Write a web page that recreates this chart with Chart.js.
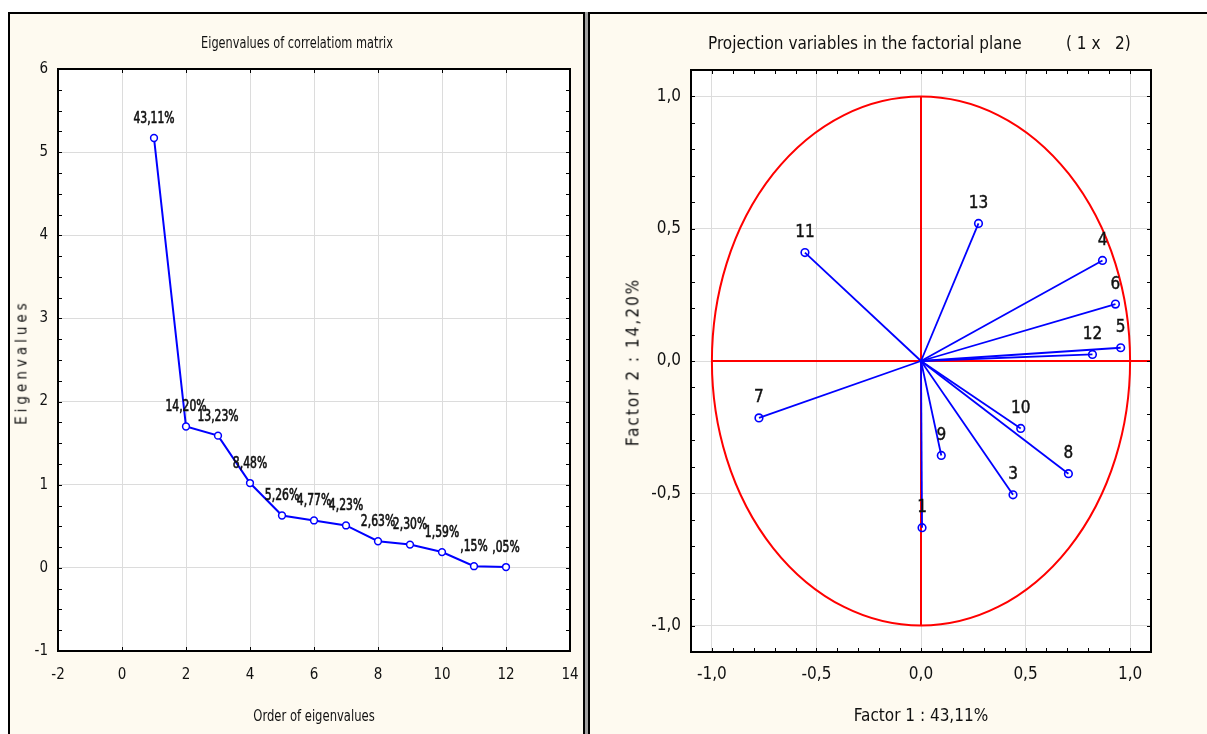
<!DOCTYPE html>
<html><head><meta charset="utf-8">
<script src="https://cdn.jsdelivr.net/npm/chart.js@4/dist/chart.umd.min.js"></script>
<style>
html,body{margin:0;padding:0;background:#fff;width:1207px;height:734px;overflow:hidden;position:relative}
.panel{position:absolute;background:#fefaf0;box-sizing:border-box;border:2px solid #000;border-bottom:none}
#pl{left:8px;top:12px;width:577px;height:730px}
#pr{left:588px;top:12px;width:640px;height:730px;border-right:none}
#gap{position:absolute;left:585px;top:12px;width:3px;height:730px;background:#a0a0a0}
canvas{position:absolute}
.ttl{position:absolute;white-space:pre;color:#111;font-family:'Liberation Sans Narrow','DejaVu Sans Condensed','Liberation Sans',Arial,sans-serif;line-height:1;transform:translateY(-50%)}
.vt{position:absolute;white-space:pre;color:#111;font-family:'Liberation Sans Narrow','DejaVu Sans Condensed','Liberation Sans',Arial,sans-serif;line-height:1;transform:translate(-50%,-50%) rotate(-90deg)}
</style>
</head><body>
<div id="gap"></div>
<div class="panel" id="pl"></div>
<div class="panel" id="pr"></div>
<canvas id="c1" width="576" height="722" style="left:8px;top:12px;width:576px;height:722px"></canvas>
<canvas id="c2" width="617" height="722" style="left:590px;top:12px;width:617px;height:722px"></canvas>
<div class="ttl" style="left:297px;top:43px;font-size:15px;transform:translate(-50%,-50%) scaleX(0.84)">Eigenvalues of correlatiom matrix</div>
<div class="ttl" style="left:314px;top:716px;font-size:15px;transform:translate(-50%,-50%) scaleX(0.86)">Order of eigenvalues</div>
<div class="ttl" style="left:708px;top:43px;font-size:17px">Projection variables in the factorial plane</div>
<div class="ttl" style="left:1066px;top:43px;font-size:17px">( 1 x   2)</div>
<div class="vt" style="left:22px;top:362px;font-size:15px;letter-spacing:4px">Eigenvalues</div>
<div class="vt" style="left:633px;top:362px;font-size:17px;letter-spacing:2px">Factor 2 : 14,20%</div>
<script>
// ---------- data: scree plot ----------
const eigOrder = [1,2,3,4,5,6,7,8,9,10,11,12];
const eigValues = [5.17,1.70,1.59,1.02,0.63,0.57,0.51,0.32,0.28,0.19,0.02,0.01];
const eigLabels = ['43,11%','14,20%','13,23%','8,48%','5,26%','4,77%','4,23%','2,63%','2,30%','1,59%',',15%',',05%'];
const eigXTicks = [-2,0,2,4,6,8,10,12,14];
const eigYTicks = [-1,0,1,2,3,4,5,6];

// ---------- data: projection of variables ----------
const varNames = ['1','3','4','5','6','7','8','9','10','11','12','13'];
const factor1 = [0.005,0.44,0.868,0.955,0.93,-0.775,0.705,0.097,0.477,-0.555,0.82,0.275];
const factor2 = [-0.63,-0.506,0.38,0.05,0.215,-0.215,-0.426,-0.357,-0.255,0.41,0.025,0.52];
const projTicks = [-1,-0.5,0,0.5,1];
const projTickLabels = ['-1,0','-0,5','0,0','0,5','1,0'];

const FONT = "'Liberation Sans Narrow','DejaVu Sans Condensed','Liberation Sans',Arial,sans-serif";
Chart.defaults.font.family = FONT;
Chart.defaults.color = '#111';

function frameAndTicks(chart, xs, ys, len) {
  const ctx = chart.ctx, a = chart.chartArea;
  const sx = chart.scales.x, sy = chart.scales.y;
  ctx.save();
  ctx.strokeStyle = '#000';
  ctx.lineWidth = 1;
  ctx.beginPath();
  xs.forEach(v => { const p = Math.round(sx.getPixelForValue(v)) + 0.5;
    ctx.moveTo(p, a.top); ctx.lineTo(p, a.top + len);
    ctx.moveTo(p, a.bottom); ctx.lineTo(p, a.bottom - len); });
  ys.forEach(v => { const p = Math.round(sy.getPixelForValue(v)) + 0.5;
    ctx.moveTo(a.left, p); ctx.lineTo(a.left + len, p);
    ctx.moveTo(a.right, p); ctx.lineTo(a.right - len, p); });
  ctx.stroke();
  ctx.lineWidth = 2;
  ctx.strokeRect(a.left, a.top, a.right - a.left, a.bottom - a.top);
  ctx.restore();
}
function whiteArea(chart) {
  const ctx = chart.ctx, a = chart.chartArea;
  ctx.save(); ctx.fillStyle = '#fff';
  ctx.fillRect(a.left, a.top, a.right - a.left, a.bottom - a.top);
  ctx.restore();
}
function range(a, b, s) { const r = []; for (let v = a; v <= b + 1e-9; v += s) r.push(Math.round(v * 1000) / 1000); return r; }
function noEdgePad(s) { s.paddingLeft = 0; s.paddingRight = 0; s.paddingTop = 0; s.paddingBottom = 0; }

// ---------- chart 1 ----------
new Chart(document.getElementById('c1'), {
  type: 'line',
  data: {
    datasets: [{
      data: eigOrder.map((o, i) => ({x: o, y: eigValues[i]})),
      borderColor: '#0000ff', borderWidth: 2,
      pointRadius: 3.4, pointBorderWidth: 1.5,
      pointBorderColor: '#0000ff', pointBackgroundColor: '#ffffff',
      tension: 0
    }]
  },
  options: {
    responsive: false, animation: false, devicePixelRatio: 1,
    layout: {padding: {top: 57, right: 14, left: 0, bottom: 0}},
    plugins: {legend: {display: false}, tooltip: {enabled: false}, title: {display: false}},
    scales: {
      x: {
        type: 'linear', min: -2, max: 14,
        afterBuildTicks: s => { s.ticks = eigXTicks.map(v => ({value: v})); },
        afterFit: s => { s.height = 83; noEdgePad(s); },
        grid: {color: '#dcdcdc', drawTicks: false, lineWidth: 1},
        border: {display: false},
        ticks: {font: {size: 15}, padding: 15, color: '#111', maxRotation: 0, callback: v => String(v)}
      },
      y: {
        type: 'linear', min: -1, max: 6,
        afterBuildTicks: s => { s.ticks = eigYTicks.map(v => ({value: v})); },
        afterFit: s => { s.width = 50; noEdgePad(s); },
        grid: {color: '#dcdcdc', drawTicks: false, lineWidth: 1},
        border: {display: false},
        ticks: {font: {size: 15}, padding: 10, color: '#111', callback: v => String(v)}
      }
    }
  },
  plugins: [{
    id: 'deco1',
    beforeDraw: whiteArea,
    afterDatasetsDraw(chart) {
      const ctx = chart.ctx, sx = chart.scales.x, sy = chart.scales.y;
      ctx.save();
      ctx.font = '15px ' + FONT;
      ctx.fillStyle = '#111'; ctx.strokeStyle = '#111'; ctx.lineWidth = 0.6;
      ctx.textAlign = 'center'; ctx.textBaseline = 'middle';
      const k = 0.8;
      eigOrder.forEach((o, i) => {
        const px = sx.getPixelForValue(o), py = sy.getPixelForValue(eigValues[i]) - 19;
        ctx.save();
        ctx.translate(px, py); ctx.scale(k, 1);
        ctx.fillText(eigLabels[i], 0, 0);
        ctx.strokeText(eigLabels[i], 0, 0);
        ctx.restore();
      });
      ctx.restore();
    },
    afterDraw(chart) { frameAndTicks(chart, eigXTicks, range(-1, 6, 0.25), 4); }
  }]
});

// ---------- chart 2 ----------
new Chart(document.getElementById('c2'), {
  type: 'scatter',
  data: {
    datasets: varNames.map((n, i) => ({
      data: [{x: 0, y: 0}, {x: factor1[i], y: factor2[i]}],
      showLine: true,
      borderColor: '#0000ff', borderWidth: 1.8,
      pointRadius: [0, 3.8], pointBorderWidth: 1.6,
      pointBorderColor: '#0000ff', pointBackgroundColor: 'rgba(0,0,0,0)'
    }))
  },
  options: {
    responsive: false, animation: false, devicePixelRatio: 1,
    layout: {padding: {top: 58, right: 56, left: 0, bottom: 0}},
    plugins: {legend: {display: false}, tooltip: {enabled: false}, title: {display: false}},
    scales: {
      x: {
        type: 'linear', min: -1.1, max: 1.1,
        afterBuildTicks: s => { s.ticks = projTicks.map(v => ({value: v})); },
        afterFit: s => { s.height = 82; noEdgePad(s); },
        grid: {color: '#dcdcdc', drawTicks: false},
        border: {display: false},
        ticks: {font: {size: 17}, padding: 12, color: '#111', maxRotation: 0, callback: (v, i) => projTickLabels[i]},
        title: {display: true, text: 'Factor 1 : 43,11%', font: {size: 17}, padding: {top: 0, bottom: 7}, color: '#111'}
      },
      y: {
        type: 'linear', min: -1.1, max: 1.1,
        afterBuildTicks: s => { s.ticks = projTicks.map(v => ({value: v})); },
        afterFit: s => { s.width = 101; noEdgePad(s); },
        grid: {color: '#dcdcdc', drawTicks: false},
        border: {display: false},
        ticks: {font: {size: 17}, padding: 10, color: '#111', callback: (v, i) => projTickLabels[i]}
      }
    }
  },
  plugins: [{
    id: 'deco2',
    beforeDraw: whiteArea,
    beforeDatasetsDraw(chart) {
      const ctx = chart.ctx, sx = chart.scales.x, sy = chart.scales.y;
      const cx = sx.getPixelForValue(0), cy = sy.getPixelForValue(0);
      const rx = sx.getPixelForValue(1) - cx, ry = cy - sy.getPixelForValue(1);
      ctx.save();
      ctx.strokeStyle = '#ff0000'; ctx.lineWidth = 2;
      ctx.beginPath(); ctx.ellipse(cx, cy, rx, ry, 0, 0, Math.PI * 2); ctx.stroke();
      ctx.beginPath();
      ctx.moveTo(sx.getPixelForValue(-1), cy); ctx.lineTo(sx.getPixelForValue(1.1), cy);
      ctx.moveTo(cx, sy.getPixelForValue(1)); ctx.lineTo(cx, sy.getPixelForValue(-1));
      ctx.stroke();
      ctx.restore();
    },
    afterDatasetsDraw(chart) {
      const ctx = chart.ctx, sx = chart.scales.x, sy = chart.scales.y;
      ctx.save();
      ctx.font = '17px ' + FONT;
      ctx.fillStyle = '#111'; ctx.strokeStyle = '#111'; ctx.lineWidth = 0.4;
      ctx.textAlign = 'center'; ctx.textBaseline = 'middle';
      varNames.forEach((n, i) => {
        const px = sx.getPixelForValue(factor1[i]), py = sy.getPixelForValue(factor2[i]) - 20;
        ctx.fillText(n, px, py); ctx.strokeText(n, px, py);
      });
      ctx.restore();
    },
    afterDraw(chart) { frameAndTicks(chart, range(-1.1, 1.1, 0.1), range(-1.1, 1.1, 0.1), 4); }
  }]
});
</script>
</body></html>
